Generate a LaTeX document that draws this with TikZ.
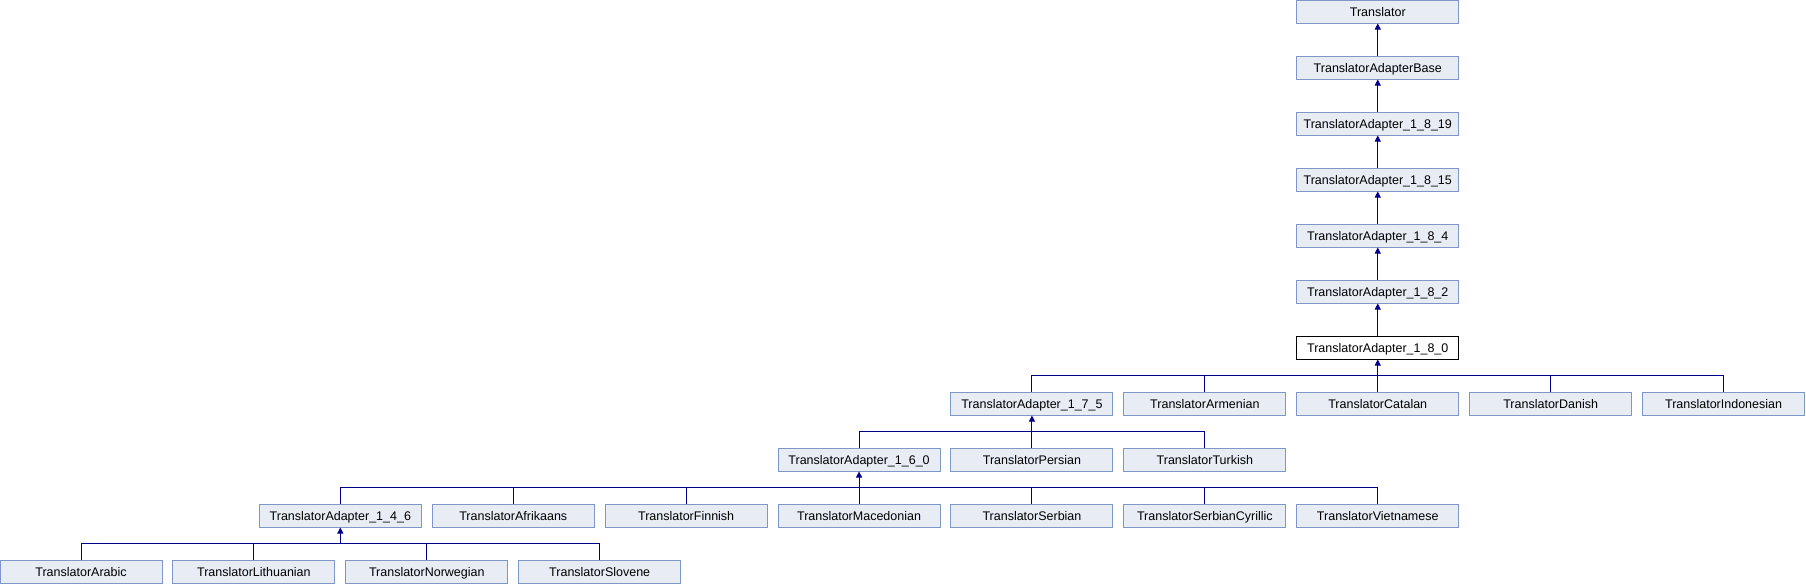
\documentclass[tikz,border=0pt]{standalone}
\usepackage{fontspec}
\setmainfont{Liberation Sans}
\usepackage{tikz}
\usetikzlibrary{arrows.meta}

\definecolor{boxfill}{HTML}{E8ECF5}
\definecolor{boxline}{HTML}{7F96C8}
\definecolor{linkcol}{HTML}{000088}

\tikzset{
    cls/.style={draw=boxline, fill=boxfill, line width=1pt, minimum width=162pt,
        minimum height=23pt, inner sep=0pt, text height=9pt, text depth=0pt,
        font=\fontsize{12.5}{14}\selectfont},
    current/.style={cls, draw=black, fill=white},
    link/.style={draw=linkcol, line width=1pt},
    inherit/.style={link, -{Triangle[width=6pt,length=6pt]}}
}

\begin{document}
\begin{tikzpicture}[x=1pt,y=1pt]
        \useasboundingbox (0,0) rectangle (1806,-584);

        % chain at the top
        \node[cls] at (1377.75,-11.5) (tr){Translator};
        \node[cls] at (1377.75,-67.5) (base){TranslatorAdapterBase};
        \node[cls] at (1377.75,-123.5) (a1819){TranslatorAdapter\_1\_8\_19};
        \node[cls] at (1377.75,-179.5) (a1815){TranslatorAdapter\_1\_8\_15};
        \node[cls] at (1377.75,-235.5) (a184){TranslatorAdapter\_1\_8\_4};
        \node[cls] at (1377.75,-291.5) (a182){TranslatorAdapter\_1\_8\_2};
        \node[current] at (1377.75,-347.5) (a180){TranslatorAdapter\_1\_8\_0};

        % row 7
        \node[cls] at (1031.95,-403.5) (a175){TranslatorAdapter\_1\_7\_5};
        \node[cls] at (1204.85,-403.5) (armenian){TranslatorArmenian};
        \node[cls] at (1377.75,-403.5) (catalan){TranslatorCatalan};
        \node[cls] at (1550.65,-403.5) (danish){TranslatorDanish};
        \node[cls] at (1723.55,-403.5) (indonesian){TranslatorIndonesian};

        % row 8
        \node[cls] at (859.05,-459.5) (a160){TranslatorAdapter\_1\_6\_0};
        \node[cls] at (1031.95,-459.5) (persian){TranslatorPersian};
        \node[cls] at (1204.85,-459.5) (turkish){TranslatorTurkish};

        % row 9
        \node[cls] at (340.35,-515.5) (a146){TranslatorAdapter\_1\_4\_6};
        \node[cls] at (513.25,-515.5) (afrikaans){TranslatorAfrikaans};
        \node[cls] at (686.15,-515.5) (finnish){TranslatorFinnish};
        \node[cls] at (859.05,-515.5) (macedonian){TranslatorMacedonian};
        \node[cls] at (1031.95,-515.5) (serbian){TranslatorSerbian};
        \node[cls] at (1204.85,-515.5) (serbcyr){TranslatorSerbianCyrillic};
        \node[cls] at (1377.75,-515.5) (vietnamese){TranslatorVietnamese};

        % row 10
        \node[cls] at (81,-571.5) (arabic){TranslatorArabic};
        \node[cls] at (253.9,-571.5) (lithuanian){TranslatorLithuanian};
        \node[cls] at (426.8,-571.5) (norwegian){TranslatorNorwegian};
        \node[cls] at (599.7,-571.5) (slovene){TranslatorSlovene};

        \draw[inherit] (base) -- (tr);
        \draw[inherit] (a1819) -- (base);
        \draw[inherit] (a1815) -- (a1819);
        \draw[inherit] (a184) -- (a1815);
        \draw[inherit] (a182) -- (a184);
        \draw[inherit] (a180) -- (a182);

        % busses
        \coordinate (j180) at (a180.south |- 0,-375.5);
        \coordinate (j175) at (a175.south |- 0,-431.5);
        \coordinate (j160) at (a160.south |- 0,-487.5);
        \coordinate (j146) at (a146.south |- 0,-543.5);

        \draw[inherit] (j180) -- (a180);
        \draw[inherit] (j175) -- (a175);
        \draw[inherit] (j160) -- (a160);
        \draw[inherit] (j146) -- (a146);

        \foreach \c in {a175,armenian,catalan,danish,indonesian}
            \draw[link] (\c.north) |- (j180);
        \foreach \c in {a160,persian,turkish}
            \draw[link] (\c.north) |- (j175);
        \foreach \c in {a146,afrikaans,finnish,macedonian,serbian,serbcyr,vietnamese}
            \draw[link] (\c.north) |- (j160);
        \foreach \c in {arabic,lithuanian,norwegian,slovene}
            \draw[link] (\c.north) |- (j146);
    \end{tikzpicture}
\end{document}
